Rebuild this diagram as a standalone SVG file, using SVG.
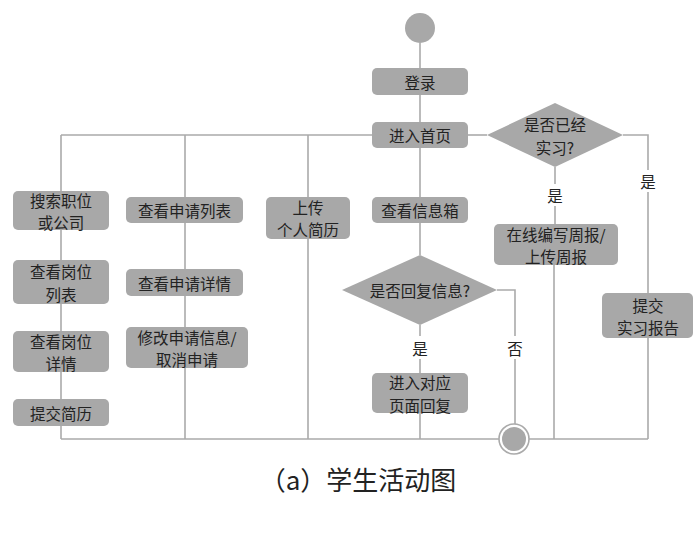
<svg xmlns="http://www.w3.org/2000/svg" width="700" height="548" viewBox="0 0 700 548">
<style>
.ln{stroke:#aaaaaa;stroke-width:1.6;fill:none}
.bx{fill:#a8a8a8}
.t{font-family:"Noto Sans CJK SC","Noto Sans",sans-serif;font-size:15.5px;fill:#222;text-anchor:middle;dominant-baseline:central}
.cap{font-family:"Noto Sans CJK SC","Noto Sans",sans-serif;font-size:26px;fill:#222;text-anchor:middle}
</style>
<rect width="700" height="548" fill="#fff"/>
<g id="connectors" class="ln">
<line x1="420" y1="43" x2="420" y2="68"/>
<line x1="420" y1="95" x2="420" y2="122"/>
<line x1="420" y1="148" x2="420" y2="197"/>
<line x1="420" y1="223" x2="420" y2="255"/>
<line x1="420" y1="325" x2="420" y2="336"/>
<line x1="420" y1="359" x2="420" y2="373"/>
<line x1="420" y1="413" x2="420" y2="439"/>
<polyline points="497,290 515,290 515,336"/>
<line x1="515" y1="359" x2="515" y2="424"/>
<line x1="61" y1="135" x2="372" y2="135"/>
<line x1="61" y1="135" x2="61" y2="191"/>
<line x1="185" y1="135" x2="185" y2="197"/>
<line x1="308" y1="135" x2="308" y2="197"/>
<line x1="468" y1="135" x2="487" y2="135"/>
<polyline points="623,135 648,135 648,170"/>
<line x1="648" y1="192" x2="648" y2="293"/>
<line x1="555" y1="167" x2="555" y2="184"/>
<line x1="555" y1="206" x2="555" y2="224"/>
<line x1="554" y1="265" x2="554" y2="439"/>
<line x1="648" y1="338" x2="648" y2="439"/>
<line x1="61" y1="230" x2="61" y2="439"/>
<line x1="185" y1="223" x2="185" y2="439"/>
<line x1="308" y1="239" x2="308" y2="439"/>
<line x1="61" y1="439" x2="648" y2="439"/>
</g>
<g id="start"><circle cx="420" cy="28" r="15" fill="#a8a8a8"/></g>
<g id="login"><rect class="bx" x="372" y="68" width="96" height="27" rx="5"/><text class="t" x="420" y="81.5">登录</text></g>
<g id="home"><rect class="bx" x="372" y="122" width="96" height="26" rx="5"/><text class="t" x="420" y="135">进入首页</text></g>
<g id="intern-q"><polygon class="bx" points="487,135 555,103 623,135 555,167"/><text class="t" x="555" y="124"><tspan x="555">是否已经</tspan><tspan x="555" dy="22.5">实习?</tspan></text></g>
<g id="weekly"><rect class="bx" x="494" y="224" width="124" height="41" rx="5"/><text class="t" x="556" y="233.5"><tspan x="556">在线编写周报/</tspan><tspan x="556" dy="22.5">上传周报</tspan></text></g>
<g id="report"><rect class="bx" x="602" y="293" width="91" height="45" rx="5"/><text class="t" x="648" y="304.5"><tspan x="648">提交</tspan><tspan x="648" dy="22.5">实习报告</tspan></text></g>
<g id="inbox"><rect class="bx" x="372" y="197" width="96" height="26" rx="5"/><text class="t" x="420" y="210">查看信息箱</text></g>
<g id="reply-q"><polygon class="bx" points="342,290 420,255 497,290 420,325"/><text class="t" x="420" y="290">是否回复信息?</text></g>
<g id="reply"><rect class="bx" x="372" y="373" width="96" height="40" rx="5"/><text class="t" x="420" y="382"><tspan x="420">进入对应</tspan><tspan x="420" dy="22.5">页面回复</tspan></text></g>
<g id="search"><rect class="bx" x="13" y="191" width="96" height="39" rx="5"/><text class="t" x="61" y="199.5"><tspan x="61">搜索职位</tspan><tspan x="61" dy="22.5">或公司</tspan></text></g>
<g id="joblist"><rect class="bx" x="13" y="260" width="96" height="44" rx="5"/><text class="t" x="61" y="271"><tspan x="61">查看岗位</tspan><tspan x="61" dy="22.5">列表</tspan></text></g>
<g id="jobdetail"><rect class="bx" x="13" y="331" width="96" height="41" rx="5"/><text class="t" x="61" y="340.5"><tspan x="61">查看岗位</tspan><tspan x="61" dy="22.5">详情</tspan></text></g>
<g id="submit"><rect class="bx" x="13" y="399" width="96" height="27" rx="5"/><text class="t" x="61" y="412.5">提交简历</text></g>
<g id="applist"><rect class="bx" x="126" y="197" width="117" height="26" rx="5"/><text class="t" x="184.5" y="210">查看申请列表</text></g>
<g id="appdetail"><rect class="bx" x="126" y="269" width="117" height="27" rx="5"/><text class="t" x="184.5" y="282.5">查看申请详情</text></g>
<g id="appmodify"><rect class="bx" x="126" y="327" width="122" height="41" rx="5"/><text class="t" x="187" y="336.5"><tspan x="187">修改申请信息/</tspan><tspan x="187" dy="22.5">取消申请</tspan></text></g>
<g id="upload"><rect class="bx" x="266" y="197" width="84" height="42" rx="5"/><text class="t" x="308" y="206.5"><tspan x="308">上传</tspan><tspan x="308" dy="22.5">个人简历</tspan></text></g>
<g id="end"><circle cx="514" cy="439" r="15" fill="#fff" stroke="#aaaaaa" stroke-width="1.6"/><circle cx="514" cy="439" r="12" fill="#a8a8a8"/></g>
<g id="labels">
<text class="t" x="555" y="195">是</text>
<text class="t" x="648" y="181">是</text>
<text class="t" x="420" y="347.5">是</text>
<text class="t" x="515" y="347.5">否</text>
</g>
<text class="cap" x="358" y="490">（a）学生活动图</text>
</svg>
